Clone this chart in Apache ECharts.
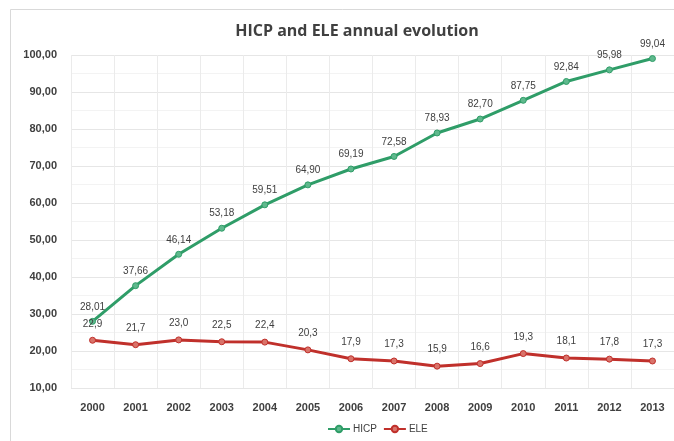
<!DOCTYPE html>
<html><head><meta charset="utf-8">
<script src="https://cdn.jsdelivr.net/npm/echarts@6/dist/echarts.min.js"></script>
<style>html,body{margin:0;padding:0;background:#fff}#c{width:674px;height:441px}</style>
</head><body><div id="c"></div>
<script>
const years = ['2000','2001','2002','2003','2004','2005','2006','2007','2008','2009','2010','2011','2012','2013'];
const hicp = [28.01,37.66,46.14,53.18,59.51,64.90,69.19,72.58,78.93,82.70,87.75,92.84,95.98,99.04];
const ele = [22.9,21.7,23.0,22.5,22.4,20.3,17.9,17.3,15.9,16.6,19.3,18.1,17.8,17.3];
const fmt = (v,d)=>v.toFixed(d).replace('.',',');
const chart = echarts.init(document.getElementById('c'));
chart.setOption({
  backgroundColor:'#fff',
  animation:false,
  graphic:[{type:'rect',shape:{x:10.5,y:9.5,width:700,height:500},style:{fill:'none',stroke:'#d9d9d9',lineWidth:1}}],
  title:{text:'HICP and ELE annual evolution',left:352,textAlign:'center',top:18,
    textStyle:{fontFamily:'Open Sans',fontWeight:'bold',fontSize:16,color:'#404040'}},
  legend:{bottom:2,left:322,itemWidth:22,itemHeight:8,itemGap:6,
    textStyle:{fontFamily:'Liberation Sans',fontSize:10,color:'#404040',padding:[0,0,0,-2]},
    data:[{name:'HICP'},{name:'ELE'}]},
  grid:{left:71,right:-7,top:55,bottom:53,containLabel:false},
  xAxis:{type:'category',data:years,boundaryGap:true,
    axisLine:{show:false},axisTick:{show:false},
    axisLabel:{fontFamily:'Liberation Sans',fontWeight:'bold',fontSize:11,color:'#404040',margin:14},
    splitLine:{show:true,lineStyle:{color:'#ebebeb',width:1}}},
  yAxis:{type:'value',min:10,max:100,interval:10,
    axisLine:{show:false},axisTick:{show:false},
    axisLabel:{fontFamily:'Liberation Sans',fontWeight:'bold',fontSize:11,color:'#404040',margin:14,
      formatter:v=>fmt(v,2)},
    splitLine:{show:true,lineStyle:{color:'#e6e6e6'}},
    minorTick:{show:false,splitNumber:2},
    minorSplitLine:{show:true,lineStyle:{color:'#f3f3f3'}}},
  series:[
    {name:'HICP',type:'line',data:hicp,symbol:'circle',symbolSize:6,
      lineStyle:{color:'#2f9d68',width:3},itemStyle:{color:'#5fb98d',borderColor:'#2f9d68',borderWidth:1},
      label:{show:true,position:'top',distance:6,fontFamily:'Liberation Sans',fontSize:10,color:'#404040',
        formatter:p=>fmt(p.value,2)}},
    {name:'ELE',type:'line',data:ele,symbol:'circle',symbolSize:6,
      lineStyle:{color:'#c0302b',width:3},itemStyle:{color:'#d9736a',borderColor:'#c0302b',borderWidth:1},
      label:{show:true,position:'top',distance:8,fontFamily:'Liberation Sans',fontSize:10,color:'#404040',
        formatter:p=>fmt(p.value,1)}}
  ]
});
</script></body></html>
